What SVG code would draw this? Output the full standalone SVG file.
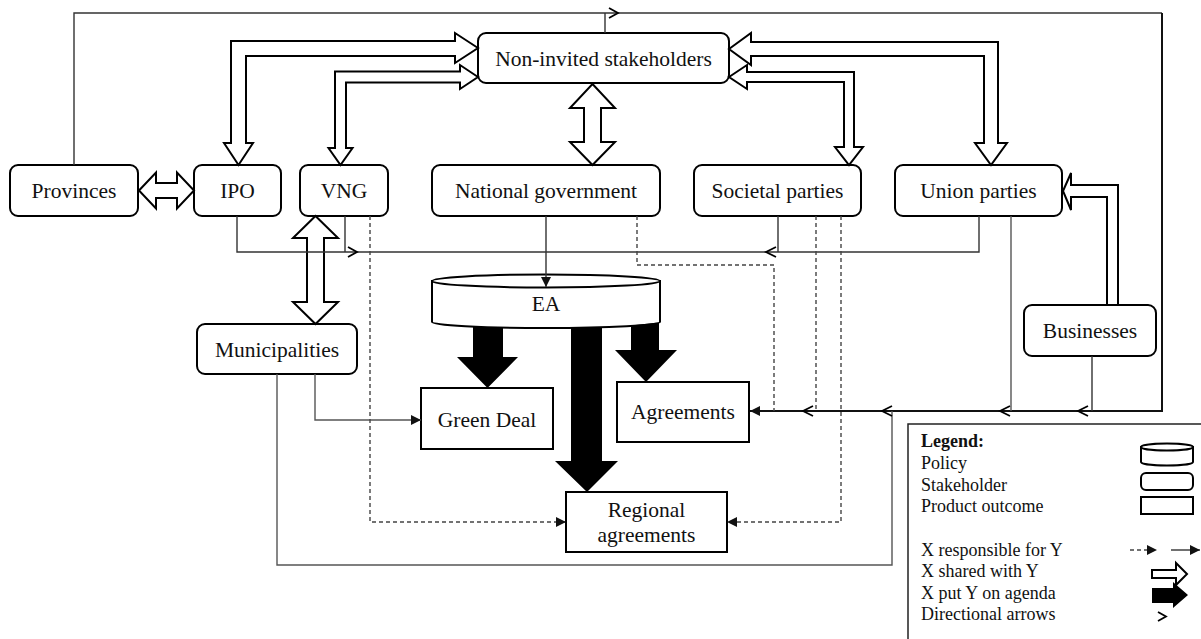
<svg xmlns="http://www.w3.org/2000/svg" width="1201" height="639" viewBox="0 0 1201 639">
<style>
.box{fill:#fff;stroke:#000;stroke-width:2}
.t{font-family:'Liberation Serif','DejaVu Serif',serif;font-size:21.5px;text-anchor:middle;fill:#111}
.lt{font-family:'Liberation Serif','DejaVu Serif',serif;font-size:18px;fill:#111}
.ln{fill:none;stroke:#333;stroke-width:1.4}
.lg{fill:none;stroke:#555;stroke-width:1.4}
.thk{fill:none;stroke:#111;stroke-width:2}
.ds{fill:none;stroke:#444;stroke-width:1.4;stroke-dasharray:4 3}
.ho{fill:#fff;stroke:#000;stroke-width:2;stroke-linejoin:miter}
.bk{fill:#000;stroke:none}
.ch{fill:none;stroke:#000;stroke-width:1.8}
</style>
<defs>
<marker id="fa" viewBox="0 0 10 10" refX="10" refY="5" markerWidth="10" markerHeight="10" markerUnits="userSpaceOnUse" orient="auto">
<path d="M0,0 L10,5 L0,10 Z" fill="#111" stroke="none"/>
</marker>
</defs>

<g id="nodes">
<g id="provinces"><rect class="box" x="10" y="165" width="128" height="51" rx="8"/><text class="t" x="74" y="198">Provinces</text></g>
<g id="ipo"><rect class="box" x="194" y="165" width="87" height="51" rx="8"/><text class="t" x="237.5" y="198">IPO</text></g>
<g id="vng"><rect class="box" x="300" y="165" width="88" height="51" rx="8"/><text class="t" x="344" y="198">VNG</text></g>
<g id="non-invited"><rect class="box" x="478" y="33" width="251" height="50" rx="8"/><text class="t" x="603.5" y="66">Non-invited stakeholders</text></g>
<g id="national-government"><rect class="box" x="432" y="165" width="228" height="51" rx="8"/><text class="t" x="546" y="198">National government</text></g>
<g id="societal-parties"><rect class="box" x="694" y="165" width="167" height="51" rx="8"/><text class="t" x="777.5" y="198">Societal parties</text></g>
<g id="union-parties"><rect class="box" x="895" y="165" width="167" height="51" rx="8"/><text class="t" x="978.5" y="198">Union parties</text></g>
<g id="municipalities"><rect class="box" x="197" y="324" width="160" height="50" rx="8"/><text class="t" x="277" y="357">Municipalities</text></g>
<g id="businesses"><rect class="box" x="1024" y="305" width="132" height="51" rx="8"/><text class="t" x="1090" y="337.5">Businesses</text></g>
<g id="ea">
<path class="box" d="M432,281 L432,322 A114,6 0 0 0 660,322 L660,281 Z"/>
<ellipse class="box" cx="546" cy="281" rx="114" ry="6.5"/>
<text class="t" x="546" y="311">EA</text>
</g>
<g id="green-deal"><rect class="box" x="421" y="388" width="132" height="61"/><text class="t" x="487" y="427">Green Deal</text></g>
<g id="agreements"><rect class="box" x="617" y="382" width="132" height="60"/><text class="t" x="683" y="419">Agreements</text></g>
<g id="regional-agreements"><rect class="box" x="566" y="492" width="161" height="60"/><text class="t" x="646.5" y="517">Regional</text><text class="t" x="646.5" y="542">agreements</text></g>
</g>

<g id="connectors">
<polygon class="ho" points="478,48 455,33 455,41 231,41 231,143 224,143 238.5,165 253,143 246,143 246,56 455,56 455,63"/>
<polygon class="ho" points="478,77 460,65 460,71.5 335,71.5 335,148 328.5,148 340.5,165 352.5,148 346,148 346,82.5 460,82.5 460,89"/>
<polygon class="ho" points="729,49 751,33 751,42 998,42 998,143 1007,143 991,165 975,143 984,143 984,56 751,56 751,65"/>
<polygon class="ho" points="729,77 747,65 747,72 854,72 854,147 863,147 849,165 835,147 844,147 844,82 747,82 747,89"/>
<polygon class="ho" points="592.5,84 615,108 601,108 601,142 615,142 592.5,165 570,142 584,142 584,108 570,108"/>
<polygon class="ho" points="139,190.5 156,172.5 156,183 177,183 177,172.5 194,190.5 177,208.5 177,198 156,198 156,208.5"/>
<polygon class="ho" points="315.5,216 338,238 324,238 324,302 338,302 315.5,324 293,302 307,302 307,238 293,238"/>
<polygon class="ho" points="1063,191 1071,173 1071,185 1118,185 1118,305 1107,305 1107,197 1071,197 1071,210"/>

<polygon class="bk" points="473,326.5 503,327.5 503,357 518,357 487.5,388 457,357 473,357"/>
<polygon class="bk" points="631,325.5 659,322.5 659,350 677,350 646,382 615,350 631,350"/>
<polygon class="bk" points="571,327.8 602,327.2 602,461 618,461 587,492 555,461 571,461"/>

<polyline class="ln" points="74,165 74,13 1162,13"/>
<line class="ln" x1="605" y1="33" x2="605" y2="13"/>
<polyline class="thk" points="1162,13 1162,411 750,411" marker-end="url(#fa)"/>
<polyline class="ln" points="237,216 237,252 979,252 979,216"/>
<line class="ln" x1="345" y1="216" x2="345" y2="252"/>
<line class="ln" x1="778" y1="216" x2="778" y2="252"/>
<line class="ln" x1="546" y1="216" x2="546" y2="287" marker-end="url(#fa)"/>
<line class="lg" x1="1011" y1="216" x2="1011" y2="411"/>
<line class="ln" x1="1092" y1="356" x2="1092" y2="411"/>
<polyline class="lg" points="277,374 277,565 892,565 892,411"/>
<polyline class="lg" points="315,374 315,420 421,420" marker-end="url(#fa)"/>

<polyline class="ds" points="370,216 370,522 566,522" marker-end="url(#fa)"/>
<polyline class="ds" points="637,216 637,265 774,265 774,411"/>
<line class="ds" x1="816" y1="216" x2="816" y2="411"/>
<polyline class="ds" points="841,216 841,522 727,522" marker-end="url(#fa)"/>

<polyline class="ch" points="609,8 618,13 609,18"/>
<polyline class="ch" points="348,247 357,252 348,257"/>
<polyline class="ch" points="776,247 766,252 776,257"/>
<polyline class="ch" points="813,406 803,411 813,416"/>
<polyline class="ch" points="892,406 882,411 892,416"/>
<polyline class="ch" points="1010,406 1000,411 1010,416"/>
<polyline class="ch" points="1088,406 1078,411 1088,416"/>
</g>

<g id="legend">
<rect x="908" y="424" width="310" height="230" fill="#fff" stroke="#222" stroke-width="1.5"/>
<text class="lt" x="921" y="447" font-weight="bold">Legend:</text>
<text class="lt" x="921" y="469">Policy</text>
<text class="lt" x="921" y="491">Stakeholder</text>
<text class="lt" x="921" y="512">Product outcome</text>
<text class="lt" x="921" y="556">X responsible for Y</text>
<text class="lt" x="921" y="577">X shared with Y</text>
<text class="lt" x="921" y="599">X put Y on agenda</text>
<text class="lt" x="921" y="620">Directional arrows</text>
<path class="box" d="M1141,447 L1141,462 A26,3.5 0 0 0 1193,462 L1193,447 Z"/>
<ellipse class="box" cx="1167" cy="447" rx="26" ry="3.5"/>
<rect class="box" x="1141" y="473" width="52" height="17" rx="5"/>
<rect class="box" x="1141" y="497" width="52" height="17"/>
<line class="ds" x1="1130" y1="550" x2="1157" y2="550" marker-end="url(#fa)"/>
<line class="ln" x1="1171" y1="550" x2="1200" y2="550" marker-end="url(#fa)"/>
<polygon class="ho" points="1152,570 1176,570 1176,563 1187,574 1176,585 1176,578 1152,578"/>
<polygon class="bk" points="1152,588 1173,588 1173,582 1188,595 1173,608 1173,603 1152,603"/>
<polyline class="ch" points="1158,612 1166,616.5 1158,621"/>
</g>
</svg>
